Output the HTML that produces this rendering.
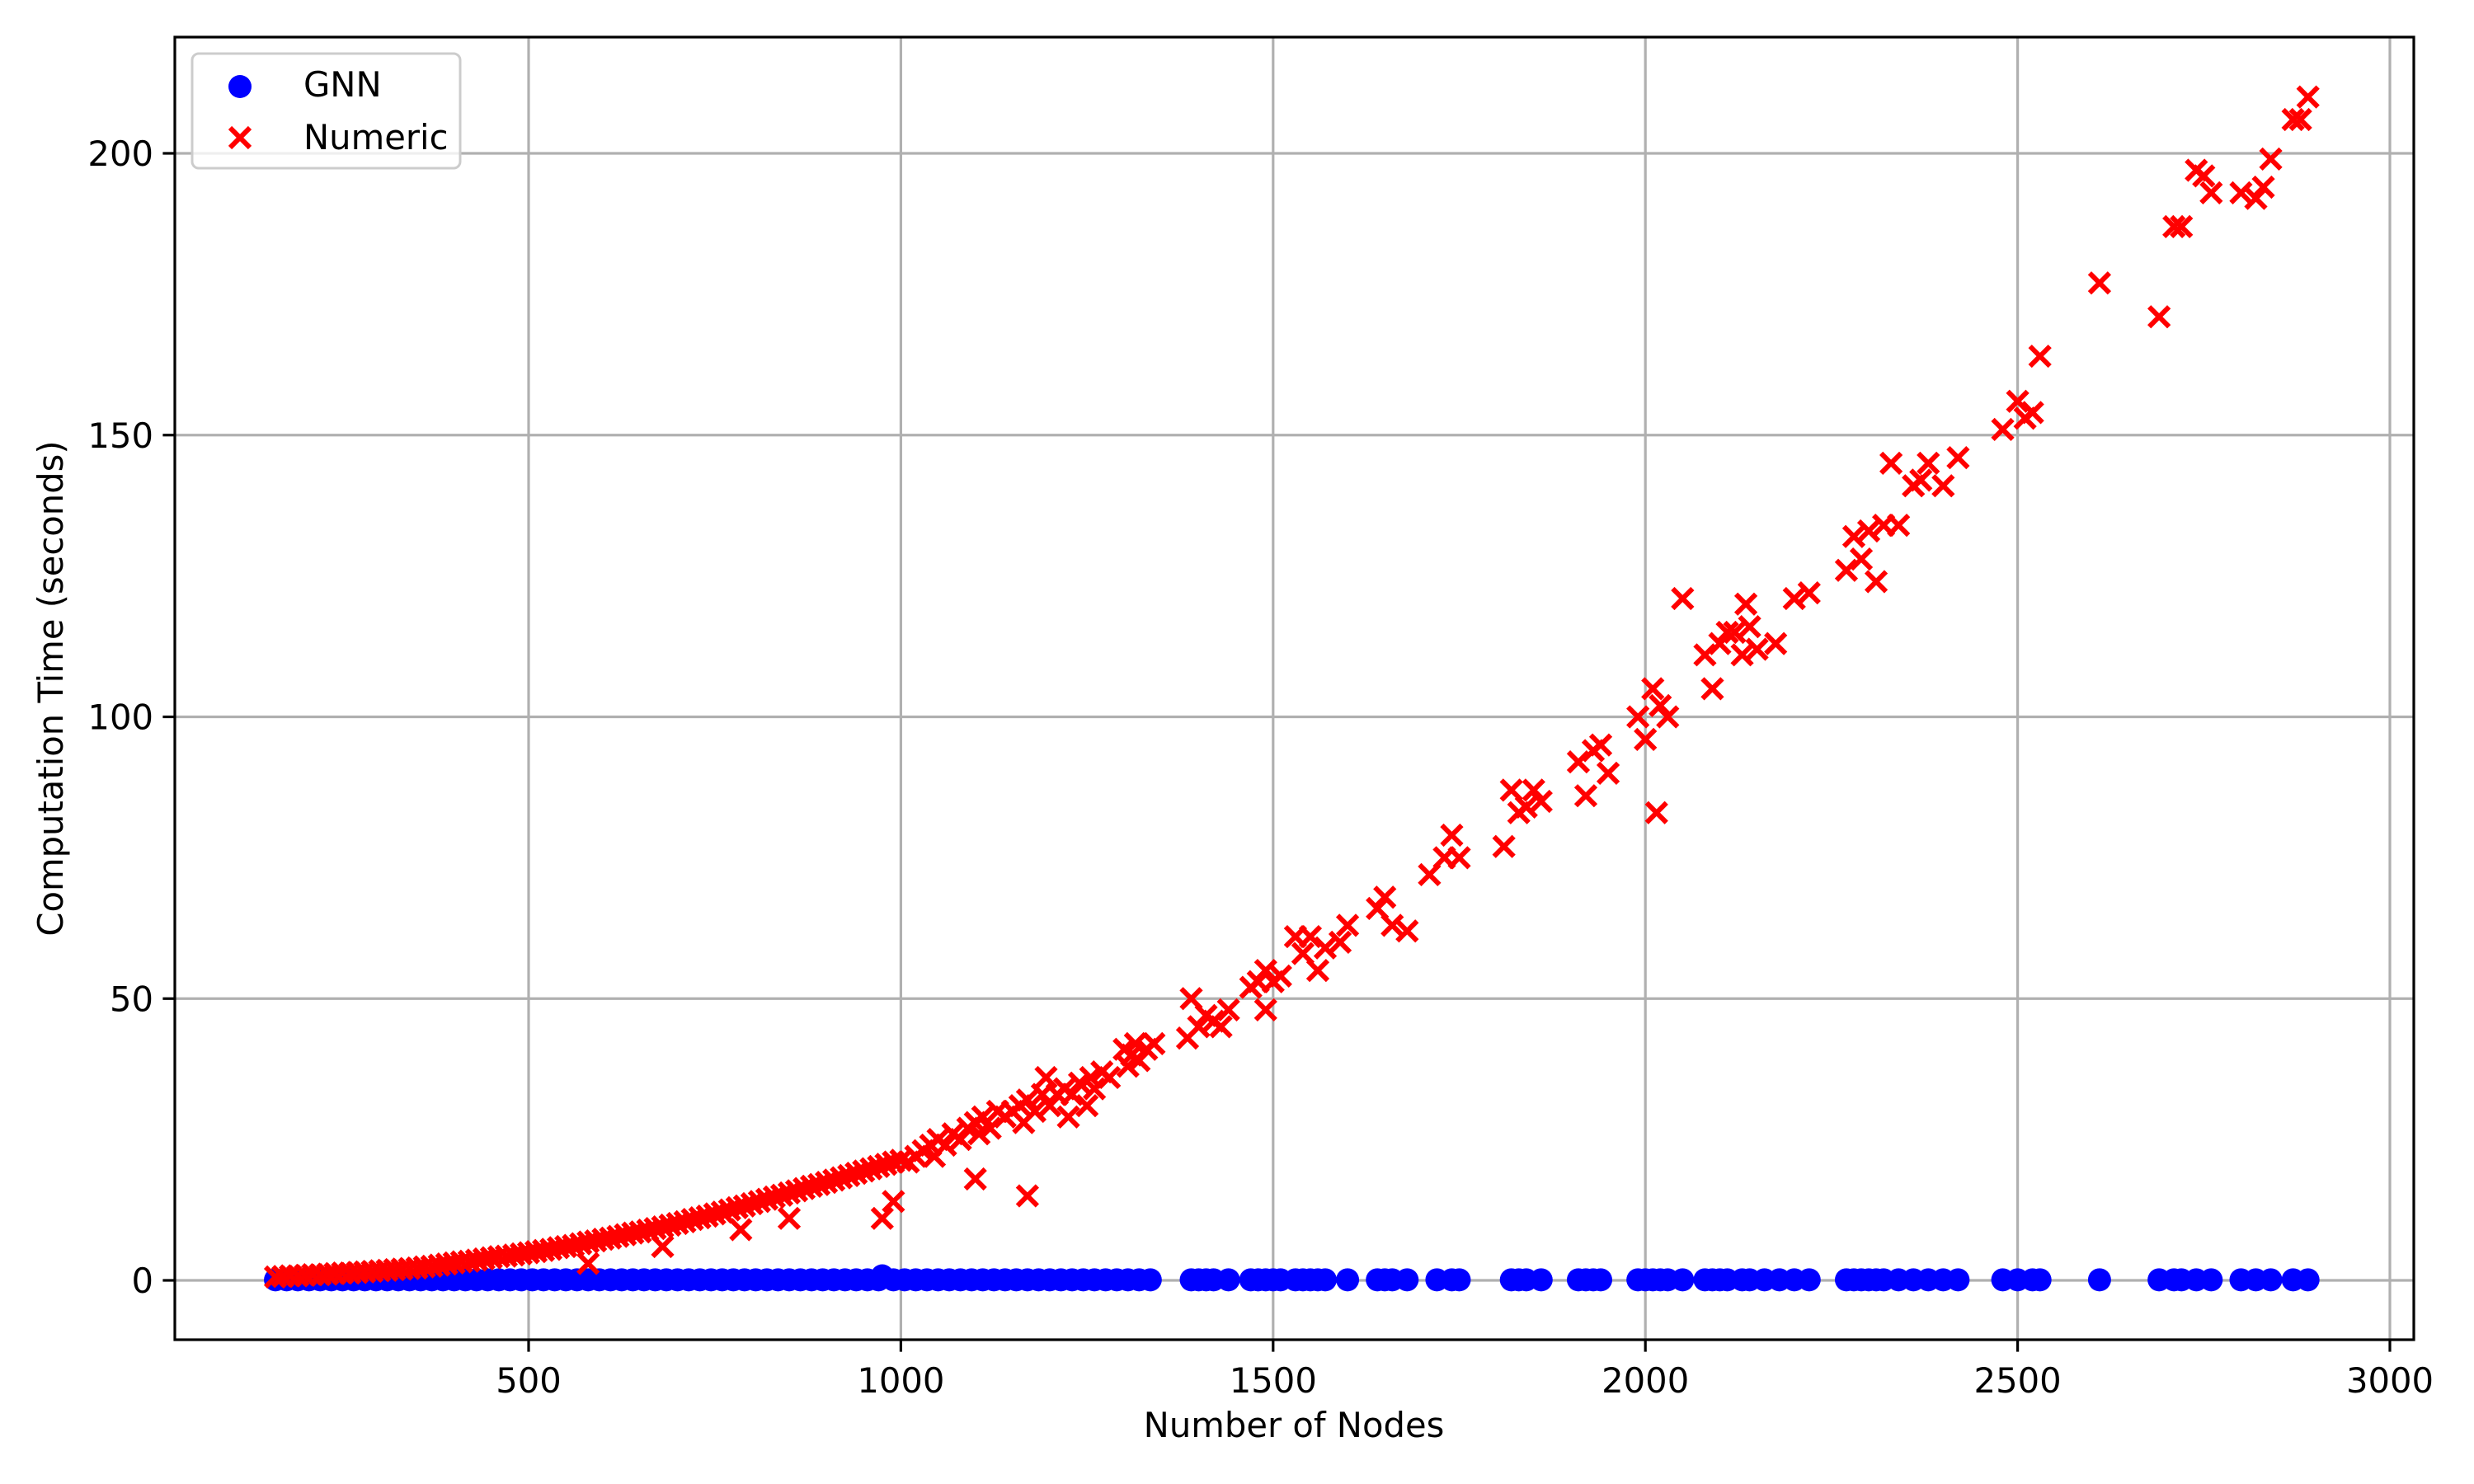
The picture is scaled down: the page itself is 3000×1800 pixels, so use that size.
<!DOCTYPE html>
<html><head><meta charset="utf-8"><style>
html,body{margin:0;padding:0;background:#fff}
svg{display:block}
text{font-family:"DejaVu Sans","Liberation Sans",sans-serif;fill:#000}
</style></head><body>
<svg id="chart" width="3000" height="1800" viewBox="0 0 3000 1800" xmlns="http://www.w3.org/2000/svg">
<rect width="3000" height="1800" fill="#fff"/>
<g id="grid"></g>
<g id="gnn"></g>
<g id="num"></g>
<rect x="212" y="45" width="2715" height="1580" fill="none" stroke="#000" stroke-width="3.2"/>
<g id="ticks"></g>
<text x="1569" y="1743" font-size="41.7" text-anchor="middle">Number of Nodes</text>
<text x="0" y="0" font-size="41.7" text-anchor="middle" transform="translate(76,835) rotate(-90)">Computation Time (seconds)</text>
<g>
<rect x="233" y="65" width="325" height="139" rx="8" fill="#fff" fill-opacity="0.8" stroke="#ccc" stroke-width="3"/>
<circle cx="291" cy="105" r="14" fill="#0000ff"/>
<text x="368" y="117" font-size="41.7">GNN</text>
<path d="M279,155 L303,179 M303,155 L279,179" stroke="#ff0000" stroke-width="6"/>
<text x="368" y="181" font-size="41.7">Numeric</text>
</g>
</svg>
<script>
const xTicks = [500, 1000, 1500, 2000, 2500, 3000];
const yTicks = [0, 50, 100, 150, 200];
const numNodes = [160,170,180,190,200,210,220,230,240,250,260,270,280,290,300,310,320,330,340,350,360,370,380,390,400,410,420,430,440,450,460,470,480,490,500,510,520,530,540,550,560,570,580,590,600,610,620,630,640,650,660,670,680,690,700,710,720,730,740,750,760,770,780,790,800,810,820,830,840,850,860,870,880,890,900,910,920,930,940,950,960,970,980,990,1000,
975,990,1100,1170,580,680,785,850,
1010,1020,1030,1040,1045,1050,1060,1070,1080,1090,1100,1105,1110,1120,1130,1140,1150,1160,1165,1170,1180,1190,1195,1200,1210,1220,1225,1230,1240,1250,1255,1260,1270,1280,1300,1305,1310,1315,1320,1330,1340,
1385,1390,1400,1410,1420,1430,1440,1470,1480,1490,1490,1500,1510,1530,1540,1550,1560,1570,1590,1600,1640,1650,1660,1680,1710,1730,1740,1750,1810,1820,1830,1840,1850,1860,1910,1920,1930,1940,1950,1990,2000,2010,2015,2020,2030,2050,2080,2090,2100,2110,2120,2130,2135,2140,2150,2175,2200,2220,2270,2280,2290,2300,2310,2320,2330,2340,2360,2370,2380,2400,2420,2480,2500,2510,2520,2530,2610,2690,2710,2720,2740,2750,2760,2800,2820,2830,2840,2870,2880,2890];
const numTimes = [0.6,0.7,0.8,0.8,0.9,1.0,1.0,1.1,1.2,1.3,1.3,1.4,1.5,1.6,1.7,1.8,1.9,2.0,2.1,2.2,2.4,2.5,2.7,2.9,3.1,3.3,3.4,3.6,3.8,4.0,4.2,4.3,4.5,4.7,4.9,5.1,5.3,5.5,5.8,6.0,6.2,6.5,6.8,7.0,7.3,7.5,7.8,8.1,8.4,8.6,8.9,9.2,9.5,9.8,10.1,10.4,10.8,11.1,11.4,11.8,12.1,12.5,12.9,13.2,13.6,14.0,14.4,14.8,15.1,15.5,15.9,16.3,16.7,17.0,17.4,17.8,18.2,18.6,19.0,19.4,19.8,20.2,20.6,21.0,21.3,
11,14,18,15,3,6,9,11,
21,22,23,24,22,25,24,26,25,27,28,26,29,27,30,29,30,31,28,32,30,33,36,31,33,34,29,33,35,31,36,34,37,36,41,38,40,42,39,41,42,
43,50,45,47,46,45,48,52,53,48,55,53,54,61,58,61,55,59,60,63,66,68,63,62,72,75,79,75,77,87,83,84,87,85,92,86,94,95,90,100,96,105,83,102,100,121,111,105,113,115,115,111,120,116,112,113,121,122,126,132,128,133,124,134,145,134,141,142,145,141,146,151,156,153,154,164,177,171,187,187,197,196,193,193,192,194,199,206,206,210];
const gnnNodes = [160,175,190,205,220,235,250,265,280,295,310,325,340,355,370,385,400,415,430,445,460,475,490,505,520,535,550,565,580,595,610,625,640,655,670,685,700,715,730,745,760,775,790,805,820,835,850,865,880,895,910,925,940,955,970,975,990,1005,1020,1035,1050,1065,1080,1095,1110,1125,1140,1155,1170,1185,1200,1215,1230,1245,1260,1275,1290,1305,1320,1335,1390,1400,1410,1420,1440,1470,1480,1490,1500,1510,1530,1540,1550,1560,1570,1600,1640,1650,1660,1680,1720,1740,1750,1820,1830,1840,1860,1910,1920,1930,1940,1990,2000,2010,2020,2030,2050,2080,2090,2100,2110,2130,2140,2160,2180,2200,2220,2270,2280,2290,2300,2310,2320,2340,2360,2380,2400,2420,2480,2500,2520,2530,2610,2690,2710,2720,2740,2760,2800,2820,2840,2870,2890];
const gnnTimes = [0.1,0.1,0.1,0.1,0.1,0.1,0.1,0.1,0.1,0.1,0.1,0.1,0.1,0.1,0.1,0.1,0.1,0.1,0.1,0.1,0.1,0.1,0.1,0.1,0.1,0.1,0.1,0.1,0.1,0.1,0.1,0.1,0.1,0.1,0.1,0.1,0.1,0.1,0.1,0.1,0.1,0.1,0.1,0.1,0.1,0.1,0.1,0.1,0.1,0.1,0.1,0.1,0.1,0.1,0.1,0.8,0.1,0.1,0.1,0.1,0.1,0.1,0.1,0.1,0.1,0.1,0.1,0.1,0.1,0.1,0.1,0.1,0.1,0.1,0.1,0.1,0.1,0.1,0.1,0.1,0.1,0.1,0.1,0.1,0.1,0.1,0.1,0.1,0.1,0.1,0.1,0.1,0.1,0.1,0.1,0.1,0.1,0.1,0.1,0.1,0.1,0.1,0.1,0.1,0.1,0.1,0.1,0.1,0.1,0.1,0.1,0.1,0.1,0.1,0.1,0.1,0.1,0.1,0.1,0.1,0.1,0.1,0.1,0.1,0.1,0.1,0.1,0.1,0.1,0.1,0.1,0.1,0.1,0.1,0.1,0.1,0.1,0.1,0.1,0.1,0.1,0.1,0.1,0.1,0.1,0.1,0.1,0.1,0.1,0.1,0.1,0.1,0.1,0.1,0.8];

const NS = 'http://www.w3.org/2000/svg';
const X0 = 212, X1 = 2927, Y0 = 45, Y1 = 1625;
function xs(v){ return 641 + (v - 500) * (2898 - 641) / 2500; }
function ys(v){ return 1553 - v * (1553 - 186) / 200; }
function mk(tag, attrs, parent){ const e = document.createElementNS(NS, tag); for (const k in attrs) e.setAttribute(k, attrs[k]); parent.appendChild(e); return e; }

const grid = document.getElementById('grid');
const ticks = document.getElementById('ticks');
xTicks.forEach(t => {
  const x = xs(t);
  const g = mk('line', {x1:x, x2:x, y1:Y0, y2:Y1, stroke:'#b0b0b0', 'stroke-width':3.2}, grid);
  
  
  const tk = mk('line', {x1:x, x2:x, y1:Y1, y2:Y1 + 14.6, stroke:'#000', 'stroke-width':3.2}, ticks);
  
  
  const lb = mk('text', {x:x, y:Y1 + 64, 'font-size':41.7, 'text-anchor':'middle'}, ticks);
  lb.textContent = String(t);
  
  
});
yTicks.forEach(t => {
  const y = ys(t);
  const g = mk('line', {x1:X0, x2:X1, y1:y, y2:y, stroke:'#b0b0b0', 'stroke-width':3.2}, grid);
  
  
  const tk = mk('line', {x1:X0 - 14.6, x2:X0, y1:y, y2:y, stroke:'#000', 'stroke-width':3.2}, ticks);
  
  
  const lb = mk('text', {x:X0 - 26, y:y + 15, 'font-size':41.7, 'text-anchor':'end'}, ticks);
  lb.textContent = String(t);
  
  
});

const gg = document.getElementById('gnn');
gnnNodes.forEach((n, i) => {
  const c = mk('circle', {cx:xs(n), cy:ys(gnnTimes[i]), r:14, fill:'#0000ff'}, gg);
  
  
});
const ng = document.getElementById('num');
const h = 12;
numNodes.forEach((n, i) => {
  const x = xs(n), y = ys(numTimes[i]);
  const p = mk('path', {d:`M${x-h},${y-h} L${x+h},${y+h} M${x+h},${y-h} L${x-h},${y+h}`, stroke:'#ff0000', 'stroke-width':6, fill:'none'}, ng);
  
  
});
</script>
</body></html>
